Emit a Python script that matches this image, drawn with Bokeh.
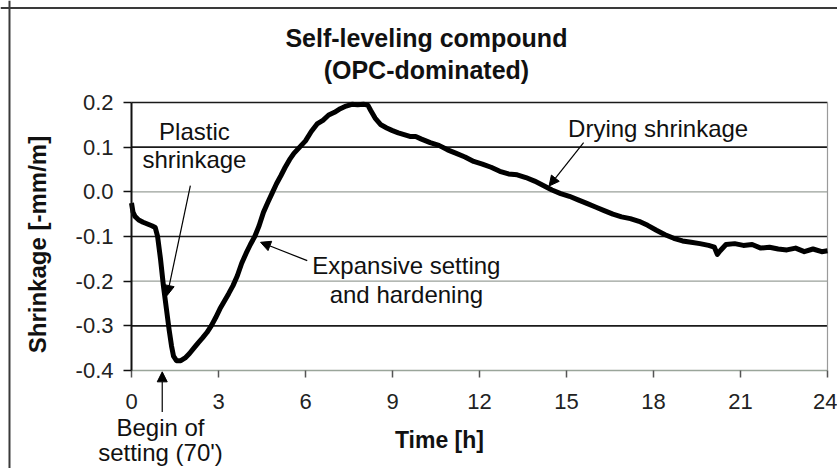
from bokeh.plotting import figure
from bokeh.models import Label, Arrow, NormalHead, Span, FixedTicker, PrintfTickFormatter, ColumnDataSource
from bokeh.embed import file_html
from bokeh.resources import INLINE
import math

# ---- data ----
time_h = [0.00, 0.05, 0.12, 0.25, 0.40, 0.55, 0.70, 0.82, 0.90, 1.00, 1.10, 1.20, 1.30, 1.38, 1.45,
          1.55, 1.70, 1.85, 2.00, 2.15, 2.30, 2.45, 2.60, 2.75, 2.90, 3.05, 3.20, 3.35, 3.50, 3.65,
          3.80, 3.95, 4.10, 4.25, 4.40, 4.55, 4.70, 4.85, 5.00, 5.15, 5.30, 5.45, 5.60, 5.80, 6.00,
          6.20, 6.40, 6.60, 6.80, 7.00, 7.20, 7.40, 7.60, 7.80, 8.00, 8.15, 8.25, 8.40, 8.60, 8.80,
          9.00, 9.20, 9.40, 9.60, 9.80, 10.0, 10.3, 10.6, 10.9, 11.2, 11.5, 11.8, 12.1, 12.4, 12.7,
          13.0, 13.3, 13.6, 13.9, 14.2, 14.5, 14.8, 15.1, 15.4, 15.7, 16.0, 16.3, 16.6, 16.9, 17.2,
          17.5, 17.8, 18.1, 18.4, 18.7, 19.0, 19.3, 19.6, 19.9, 20.1, 20.2, 20.3, 20.5, 20.8, 21.1,
          21.4, 21.7, 22.0, 22.3, 22.6, 22.9, 23.2, 23.5, 23.8, 24.0]
shrinkage = [-0.025, -0.045, -0.055, -0.063, -0.068, -0.072, -0.076, -0.080, -0.100, -0.150, -0.210,
             -0.260, -0.310, -0.345, -0.368, -0.378, -0.378, -0.372, -0.362, -0.350, -0.338, -0.327,
             -0.315, -0.300, -0.282, -0.262, -0.245, -0.228, -0.210, -0.188, -0.160, -0.138, -0.118,
             -0.100, -0.076, -0.046, -0.024, -0.003, 0.018, 0.036, 0.055, 0.072, 0.086, 0.100, 0.114,
             0.135, 0.152, 0.160, 0.172, 0.178, 0.186, 0.192, 0.196, 0.195, 0.196, 0.194, 0.182,
             0.165, 0.150, 0.143, 0.137, 0.132, 0.128, 0.124, 0.124, 0.118, 0.110, 0.104, 0.094,
             0.086, 0.078, 0.068, 0.062, 0.055, 0.046, 0.040, 0.038, 0.032, 0.024, 0.014, 0.004,
             -0.004, -0.010, -0.018, -0.026, -0.034, -0.042, -0.050, -0.056, -0.060, -0.066, -0.075,
             -0.086, -0.096, -0.104, -0.110, -0.113, -0.116, -0.120, -0.124, -0.140, -0.132, -0.118,
             -0.116, -0.120, -0.118, -0.126, -0.124, -0.128, -0.130, -0.126, -0.134, -0.128, -0.134,
             -0.132]
x_ticks = [0, 3, 6, 9, 12, 15, 18, 21, 24]
y_ticks = [-0.4, -0.3, -0.2, -0.1, 0.0, 0.1, 0.2]
dark_grid = [0.2, 0.1, -0.1, -0.3]
light_grid = [0.0, -0.2]

title_lines = ["Self-leveling compound", "(OPC-dominated)"]
x_label = "Time [h]"
y_label = "Shrinkage [-mm/m]"

FONT = "Liberation Sans"
X0, X1 = x_ticks[0], x_ticks[-1]
Y0, Y1 = y_ticks[0], y_ticks[-1]

# the frame covers the whole canvas; axes are pinned at x=0 and y=-0.4
p = figure(width=837, height=468, x_range=(-4.517, 24.345), y_range=(-0.6194, 0.4283),
           output_backend="svg", toolbar_location=None,
           min_border_left=0, min_border_right=0, min_border_top=0, min_border_bottom=0)
p.border_fill_color = "white"
p.background_fill_color = "white"
p.outline_line_color = None
p.xgrid.visible = False
p.ygrid.visible = False

# outer chart frame (left and top edges visible)
p.add_layout(Span(location=-4.207, dimension="height", line_color="#3a3a3a", line_width=2))
p.add_layout(Span(location=0.4115, dimension="width", line_color="#3a3a3a", line_width=2))

# grid lines across the plot area
p.segment(x0=[X0] * len(dark_grid), x1=[X1] * len(dark_grid), y0=dark_grid, y1=dark_grid,
          line_color="#1a1a1a", line_width=1.6)
p.segment(x0=[X0] * len(light_grid), x1=[X1] * len(light_grid), y0=light_grid, y1=light_grid,
          line_color="#9aa09a", line_width=1.2)
p.segment(x0=[X1], x1=[X1], y0=[Y0], y1=[Y1], line_color="#9a9a9a", line_width=1.2)

# axes
p.xaxis.fixed_location = Y0
p.yaxis.fixed_location = X0
p.xaxis.bounds = (X0, X1)
p.yaxis.bounds = (Y0, Y1)
p.xaxis.ticker = FixedTicker(ticks=x_ticks)
p.yaxis.ticker = FixedTicker(ticks=y_ticks)
p.yaxis.formatter = PrintfTickFormatter(format="%.1f")
for ax in (p.xaxis[0], p.yaxis[0]):
    ax.major_label_text_font = FONT
    ax.major_label_text_font_size = "22px"
    ax.major_label_text_color = "#222222"
    ax.minor_tick_line_color = None
    ax.major_tick_in = 0
p.xaxis.axis_line_color = "#9aa59a"
p.xaxis.axis_line_width = 1.5
p.xaxis.major_tick_line_color = "#555555"
p.xaxis.major_tick_line_width = 1.5
p.xaxis.major_tick_out = 7
p.xaxis.major_label_standoff = 17
p.yaxis.axis_line_color = "#111111"
p.yaxis.axis_line_width = 2
p.yaxis.major_tick_line_color = "#111111"
p.yaxis.major_tick_line_width = 1.5
p.yaxis.major_tick_out = 8
p.yaxis.major_label_standoff = 10

# curve
src = ColumnDataSource(dict(t=time_h, s=shrinkage))
p.line("t", "s", source=src, line_color="black", line_width=5, line_join="round")

def lab(x, y, text, size="24px", bold=False, angle=0):
    p.add_layout(Label(x=x, y=y, text=text, text_font=FONT, text_font_size=size,
                       text_font_style="bold" if bold else "normal", text_color="#111111",
                       text_align="center", text_baseline="middle", angle=angle))

# title
lab(10.17, 0.3443, title_lines[0], size="25px", bold=True)
lab(10.17, 0.2736, title_lines[1], size="25px", bold=True)
# axis titles
lab(10.62, -0.5545, x_label, size="23px", bold=True)
lab(-3.252, -0.118, y_label, size="24px", bold=True, angle=math.pi / 2)

# annotations
lab(2.17, 0.134, "Plastic")
lab(2.17, 0.072, "shrinkage")
lab(9.48, -0.165, "Expansive setting")
lab(9.48, -0.230, "and hardening")
lab(18.16, 0.142, "Drying shrinkage")
lab(1.00, -0.528, "Begin of")
lab(1.00, -0.584, "setting (70')")

def arrow(x0, y0, x1, y1):
    p.add_layout(Arrow(end=NormalHead(size=10, fill_color="black", line_color="black"),
                       x_start=x0, y_start=y0, x_end=x1, y_end=y1,
                       line_color="black", line_width=1.2))

arrow(2.03, 0.014, 1.23, -0.232)
arrow(1.06, -0.493, 1.06, -0.403)
arrow(6.06, -0.154, 4.45, -0.113)
arrow(15.59, 0.110, 14.40, 0.013)

open("out.html", "w").write(file_html(p, INLINE))
